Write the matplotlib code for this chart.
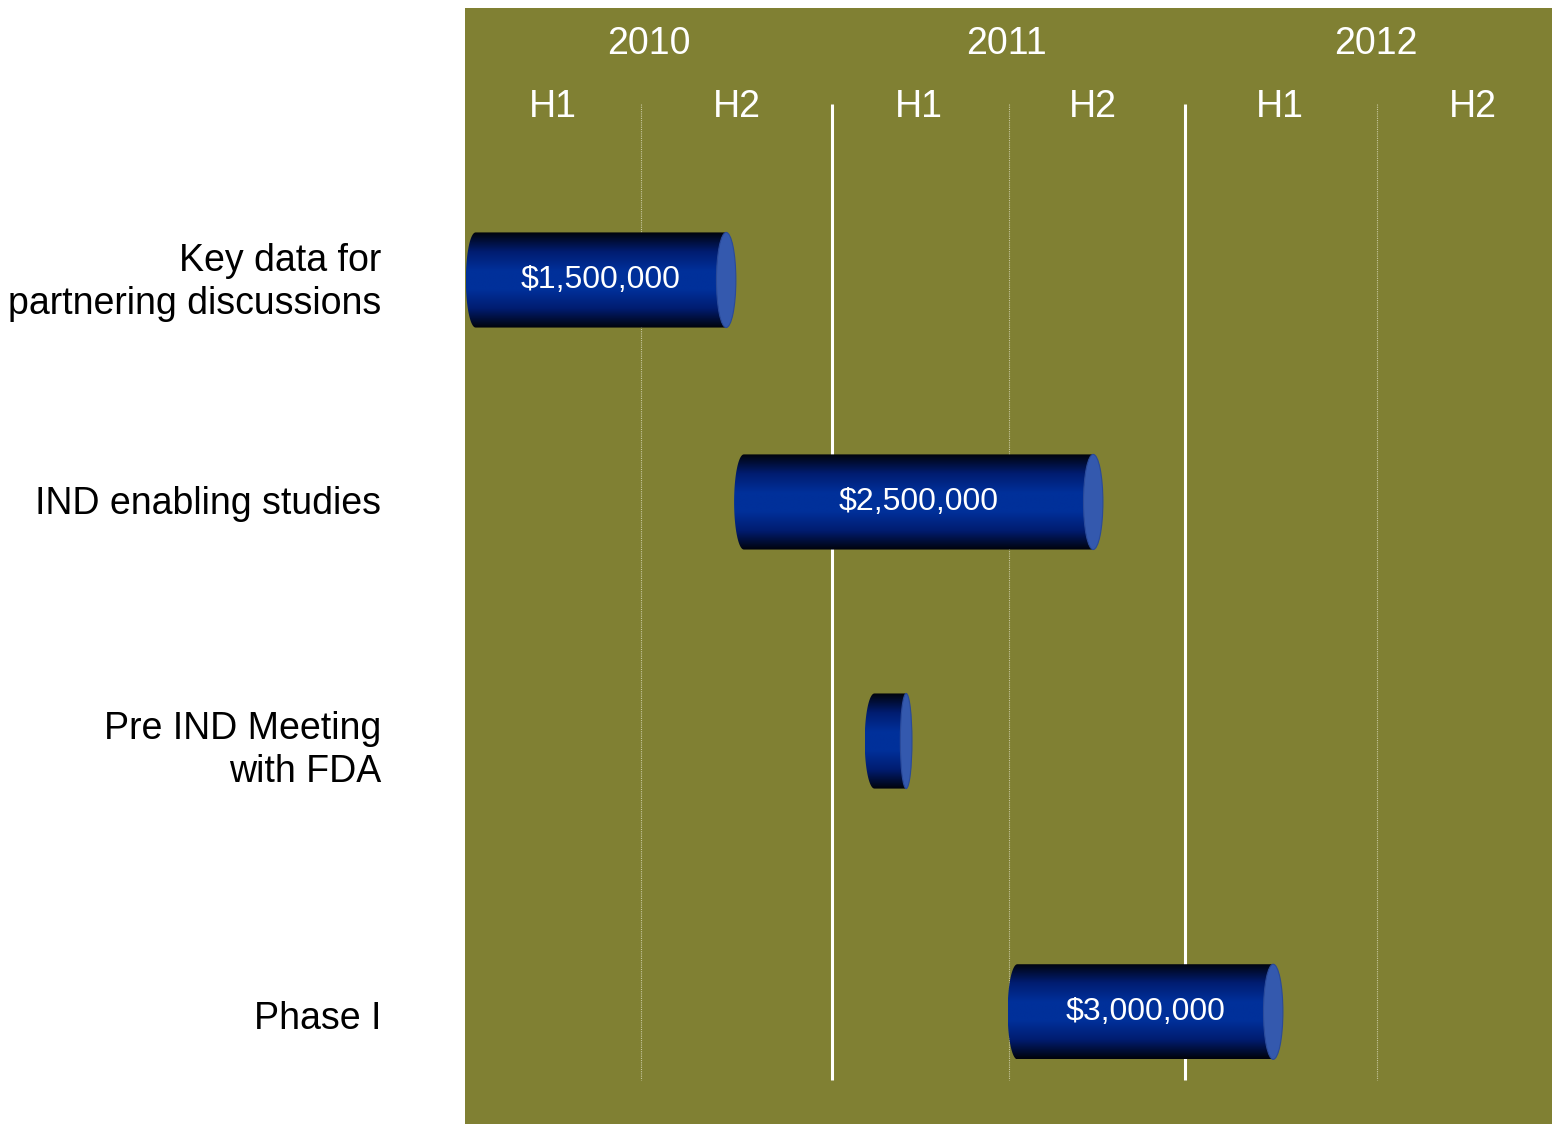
import numpy as np
import matplotlib.pyplot as plt
from matplotlib.colors import LinearSegmentedColormap
from matplotlib.patches import Ellipse, PathPatch
from matplotlib.path import Path

plt.rcParams['font.family'] = ['Liberation Sans', 'DejaVu Sans']

# timeline in half-years from the start of 2010
years = ['2010', '2011', '2012']
year_pos = [0.96, 2.99, 5.08]
halves = ['H1', 'H2', 'H1', 'H2', 'H1', 'H2']
half_pos = [0.42, 1.46, 2.49, 3.48, 4.54, 5.63]
tasks = ['Key data for\npartnering discussions', 'IND enabling studies',
         'Pre IND Meeting\nwith FDA', 'Phase I']
row_pos = [0, 0.91, 1.89, 3.0]
label_pos = [0.01, 0.92, 1.93, 3.03]
start = [-0.02, 1.50, 2.24, 3.05]
end = [1.40, 3.48, 2.42, 4.50]
costs = ['$1,500,000', '$2,500,000', '', '$3,000,000']

olive = '#808033'
cap = '#3459ae'
grad = LinearSegmentedColormap.from_list(
    'cyl', ['#00030c', '#001c70', '#00309a', '#00309a', '#001c70', '#00030c'])

fig = plt.figure(figsize=(15.52, 11.24), dpi=100)
ax = fig.add_axes([465 / 1552, 0, 1087 / 1552, 1116 / 1124])
ax.set_facecolor(olive)
ax.set_xlim(-0.08, 6.08)
ax.set_ylim(3.46, -1.115)
for s in ax.spines.values():
    s.set_visible(False)
ax.set_xticks([])
ax.set_yticks([])

# header
for x, y in zip(year_pos, years):
    ax.text(x, -0.968, y, ha='center', va='center', color='white', fontsize=27)
for x, h in zip(half_pos, halves):
    ax.text(x, -0.708, h, ha='center', va='center', color='white', fontsize=27)

# grid lines
ax.vlines([2, 4], -0.72, 3.28, color='white', lw=2.2)
ax.vlines([0.92, 3.0, 5.09], -0.72, 3.28, color='#c8c8a0', lw=0.8, linestyles=(0, (1, 1)))

bar_h = 0.39
ew = 0.11
grad_img = np.linspace(0, 1, 200).reshape(-1, 1)
t = np.linspace(np.pi / 2, 3 * np.pi / 2, 40)
for y, x0, x1, lab in zip(row_pos, start, end, costs):
    # body: rectangle with rounded left end
    xs = np.concatenate([[x1], x0 + ew / 2 * np.cos(t), [x1, x1]])
    ys = np.concatenate([[y - bar_h / 2], y - bar_h / 2 * np.sin(t), [y + bar_h / 2, y - bar_h / 2]])
    body = PathPatch(Path(np.column_stack([xs, ys])), fc='none', ec='none')
    ax.add_patch(body)
    im = ax.imshow(grad_img, cmap=grad, aspect='auto', interpolation='bilinear',
                   extent=(x0 - ew / 2, x1, y + bar_h / 2, y - bar_h / 2), zorder=3)
    im.set_clip_path(body)
    w = ew if x1 - x0 > 0.5 else ew * 0.6
    ax.add_patch(Ellipse((x1, y), w, bar_h, fc=cap, ec='#2a4a9a', lw=0.8, zorder=4))
    if lab:
        ax.text((x0 + x1) / 2, y, lab, ha='center', va='center', color='white',
                fontsize=23, zorder=5)

# task labels left of the panel
for y, name in zip(label_pos, tasks):
    fig.text(381 / 1552, 1 - (280 + (y * 244)) / 1124, name, ha='right', va='center',
             fontsize=27, linespacing=1.25)

fig.savefig('out.png', dpi=100)
